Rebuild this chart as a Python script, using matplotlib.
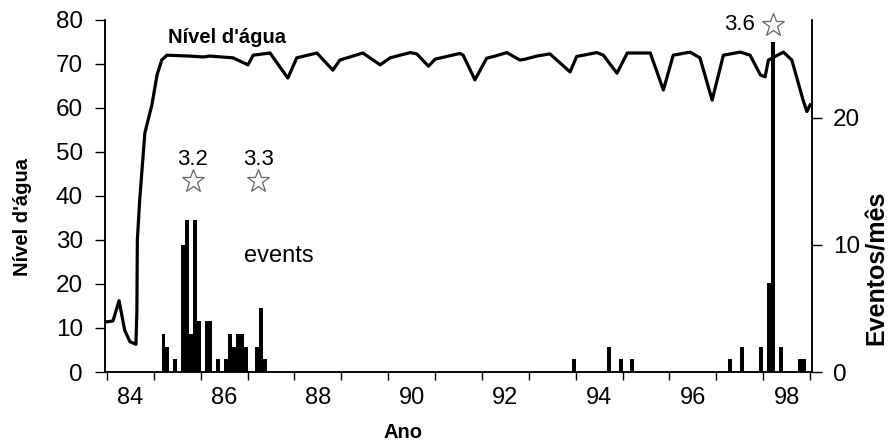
import numpy as np
import matplotlib
matplotlib.use('Agg')
import matplotlib.pyplot as plt

plt.rcParams['font.family'] = ['Liberation Sans', 'DejaVu Sans']

# water level (left axis), x in decimal year (84 = 1984)
level_year = [83.96, 84.00, 84.13, 84.26, 84.38, 84.49, 84.62, 84.64, 84.65,
              84.70, 84.81, 84.96, 85.07, 85.17, 85.28, 85.77, 86.05, 86.20,
              86.69, 87.01, 87.12, 87.48, 87.86, 88.05, 88.48, 88.82, 88.97,
              89.46, 89.83, 90.04, 90.47, 90.61, 90.86, 91.00, 91.53, 91.60,
              91.85, 92.10, 92.28, 92.53, 92.81, 92.92, 93.17, 93.45, 93.88,
              94.02, 94.45, 94.59, 94.88, 95.10, 95.59, 95.87, 96.08, 96.44,
              96.65, 96.91, 97.15, 97.51, 97.72, 97.94, 98.04, 98.11, 98.43,
              98.61, 98.85, 98.93, 99.00]
level_val = [11.4, 11.4, 11.6, 16.2, 9.5, 6.9, 6.3, 14.0, 30.0,
             39.1, 54.3, 60.7, 67.5, 70.9, 72.0, 71.8, 71.6, 71.8,
             71.4, 69.8, 72.0, 72.5, 66.8, 71.4, 72.5, 68.6, 70.9,
             72.5, 69.8, 71.4, 72.6, 72.3, 69.5, 71.1, 72.4, 72.0,
             66.4, 71.3, 71.8, 72.6, 70.9, 71.1, 71.8, 72.3, 68.2,
             71.7, 72.6, 72.0, 67.9, 72.5, 72.5, 64.1, 72.0, 72.7,
             71.4, 61.8, 72.0, 72.7, 72.0, 67.5, 67.1, 70.9, 72.7,
             70.9, 61.8, 59.2, 60.7]

# events per month (right axis), month index counted from Jan 1984
event_month = [14, 15, 17, 19, 20, 21, 22, 23, 25, 26, 28, 30, 31, 32, 33, 34,
               35, 38, 39, 40, 119, 128, 131, 134, 159, 162, 167, 169, 170,
               172, 177, 178]
event_count = [3, 2, 1, 10, 12, 3, 12, 4, 4, 4, 1, 1, 3, 2, 3, 3,
               2, 2, 5, 1, 1, 2, 1, 1, 1, 2, 2, 7, 26,
               2, 1, 1]

year_labels = ['84', '86', '88', '90', '92', '94', '96', '98']
left_ticks = [0, 10, 20, 30, 40, 50, 60, 70, 80]
right_ticks = [0, 10, 20]

# star annotations: (x, y on left axis, label, label x, label y)
stars = [(85.83, 43.3, '3.2', 85.82, 48.4),
         (87.23, 43.3, '3.3', 87.24, 48.4)]

fig = plt.figure(figsize=(8.88, 4.44), dpi=100)
ax = fig.add_axes([105/888, 1-372/444, 707/888, 352/444])
ax2 = ax.twinx()

ax.plot(level_year, level_val, color='black', lw=2.3, solid_joinstyle='round',
        zorder=3)
ev_x = 84 + (np.array(event_month) + 0.5) / 12
ax2.bar(ev_x, event_count, width=1/12, color='black', linewidth=0)

ax.set_xlim(83.96, 99.04)
ax.set_ylim(0, 80)
ax2.set_ylim(0, 27.7)

for a in (ax, ax2):
    a.spines['top'].set_visible(False)
    for s in a.spines.values():
        s.set_linewidth(1.1)

ax.set_xticks(range(84, 100))
ax.set_xticklabels([''] * 16)
ax.set_xticks(np.arange(84.5, 99, 2), minor=True)
ax.set_xticklabels(year_labels, minor=True)
ax.tick_params(axis='x', which='major', direction='out', length=6, width=1)
ax.tick_params(axis='x', which='minor', length=0, pad=11, labelsize=17)
ax.set_yticks(left_ticks)
ax.tick_params(axis='y', direction='out', length=7, width=1, pad=9,
               labelsize=17.5)
ax2.set_yticks(right_ticks)
ax2.tick_params(axis='y', direction='out', length=7, width=1, pad=8,
                labelsize=17.5)

for sx, sy, lab, lx, ly in stars:
    ax.plot(sx, sy, marker='*', ms=17, mfc='white', mec='#666666', mew=0.9,
            clip_on=False, zorder=5)
    ax.text(lx, ly, lab, ha='center', va='center', fontsize=16)
ax.plot(98.21, 78.9, marker='*', ms=17, mfc='white', mec='#666666', mew=0.9,
        clip_on=False, zorder=5)
ax.text(97.49, 78.9, '3.6', ha='center', va='center', fontsize=16)

ax.text(85.3, 76.1, "Nível d'água", ha='left', va='center', fontsize=14.5,
        fontweight='bold')
ax.text(87.67, 26.4, 'events', ha='center', va='center', fontsize=17)

fig.text(22.5/888, 1-217/444, "Nível d'água", rotation=90, ha='center',
         va='center', fontsize=14.5, fontweight='bold')
fig.text(877/888, 1-268/444, 'Eventos/mês', rotation=90, ha='center',
         va='center', fontsize=18, fontweight='bold')
fig.text(403/888, 1-432/444, 'Ano', ha='center', va='center', fontsize=14.5,
         fontweight='bold')

fig.savefig('out.png', dpi=100)
